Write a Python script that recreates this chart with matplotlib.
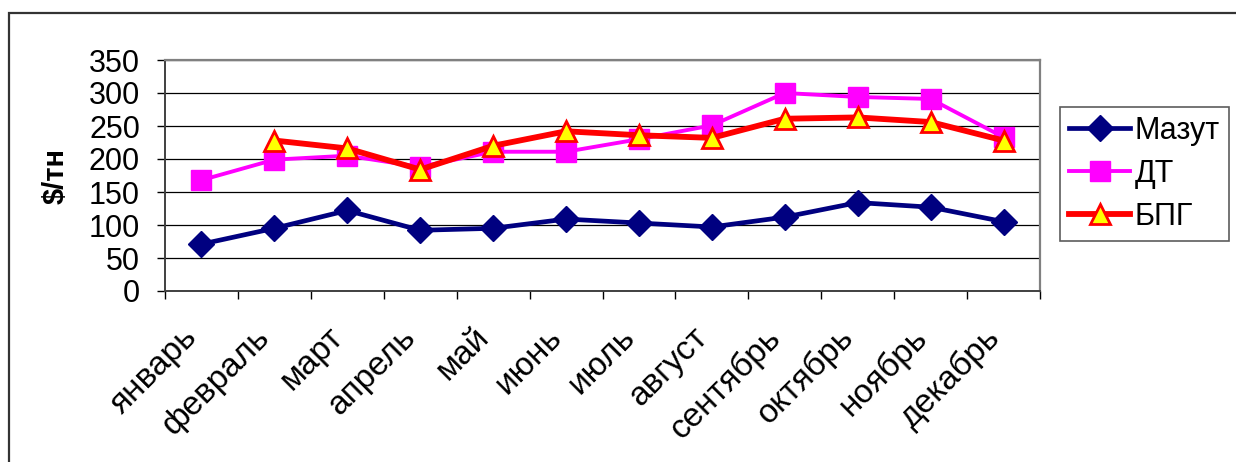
import matplotlib
matplotlib.use("Agg")
import matplotlib.pyplot as plt
from matplotlib.patches import Rectangle
from matplotlib.transforms import ScaledTranslation

# monthly prices, $/тн
months = ["январь", "февраль", "март", "апрель", "май", "июнь",
          "июль", "август", "сентябрь", "октябрь", "ноябрь", "декабрь"]
mazut = [71, 95, 122, 92, 95, 109, 103, 97, 112, 134, 127, 105]
dt = [168, 199, 205, 188, 211, 211, 230, 251, 300, 294, 291, 233]
bpg = [None, 228, 216, 184, 220, 242, 236, 232, 261, 263, 256, 228]
y_ticks = [0, 50, 100, 150, 200, 250, 300, 350]

plt.rcParams["font.family"] = ["Liberation Sans", "DejaVu Sans"]

W, H = 1236, 462
fig = plt.figure(figsize=(W / 100, H / 100), dpi=100)
ax = fig.add_axes([165 / W, 1 - 291 / H, (1040 - 165) / W, (291 - 60) / H])

x = list(range(len(months)))
ax.plot(x, mazut, color="#000080", lw=3.4, marker="D", ms=13,
        mfc="#000080", mec="#000080", label="Мазут", zorder=3)
ax.plot(x, dt, color="#FF00FF", lw=2.8, marker="s", ms=14,
        mfc="#FF00FF", mec="#FF00FF", label="ДТ", zorder=4)
xb = [i for i, v in zip(x, bpg) if v is not None]
yb = [v for v in bpg if v is not None]
ax.plot(xb, yb, color="#FF0000", lw=4.2, marker="^", ms=15,
        mfc="#FFFF00", mec="#FF0000", mew=2, label="БПГ", zorder=5)

ax.set_xlim(-0.5, len(months) - 0.5)
ax.set_ylim(0, 350)
ax.set_yticks(y_ticks)
ax.tick_params(axis="y", labelsize=22, length=6, width=1, pad=12, direction="out")
ax.set_xticks(x)
ax.set_xticklabels(months, rotation=45, ha="right", va="top",
                   rotation_mode="anchor", fontsize=24)
ax.tick_params(axis="x", which="major", length=0, pad=22)
shift = ScaledTranslation(-20 / 100, 0, fig.dpi_scale_trans)
for lab in ax.get_xticklabels():
    lab.set_transform(lab.get_transform() + shift)
ax.set_xticks([i - 0.5 for i in range(len(months) + 1)], minor=True)
ax.tick_params(axis="x", which="minor", length=6, width=1, direction="out")

ax.grid(axis="y", color="black", lw=0.9)
ax.set_axisbelow(True)
for s in ("top", "right"):
    ax.spines[s].set_color("#808080")
    ax.spines[s].set_linewidth(1.6)
for s in ("left", "bottom"):
    ax.spines[s].set_color("#404040")
    ax.spines[s].set_linewidth(1.4)

ax.set_ylabel("$/тн", fontsize=21, fontweight="bold", labelpad=14)

leg = fig.legend(loc="upper left", bbox_to_anchor=(1060 / W, 1 - 107 / H),
                 fontsize=22, frameon=True, fancybox=False, handlelength=2.0,
                 handletextpad=0.15, borderpad=0.3, labelspacing=0.42,
                 borderaxespad=0)
leg.get_frame().set_edgecolor("#333333")
leg.get_frame().set_linewidth(1.2)

# outer chart frame
fig.patches.append(Rectangle((9 / W, -0.1), 1.2, 1 - 13 / H + 0.1,
                             transform=fig.transFigure, fill=False,
                             edgecolor="#333333", lw=1.6))

fig.savefig("out.png", dpi=100)
